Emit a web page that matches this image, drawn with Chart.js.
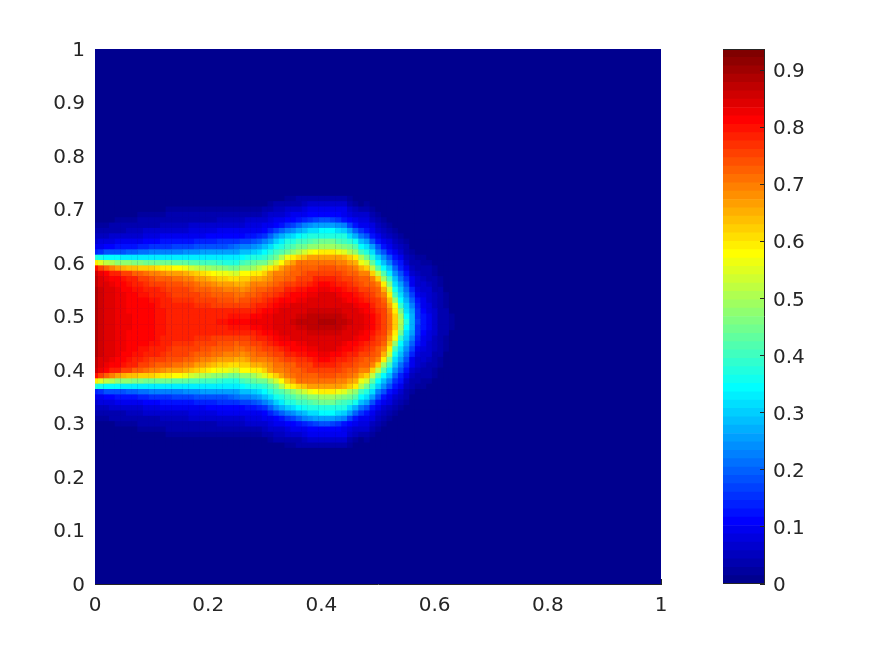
<!DOCTYPE html>
<html><head><meta charset="utf-8">
<style>html,body{margin:0;padding:0;background:#fff}canvas{position:absolute;top:0}</style>
<script src="https://cdn.jsdelivr.net/npm/chart.js@4"></script></head>
<body>
<canvas id="heat" width="700" height="656" style="left:0;width:700px;height:656px"></canvas>
<canvas id="bar" width="175" height="656" style="left:700px;width:175px;height:656px"></canvas>
<script>
const xTicks=[0,0.2,0.4,0.6,0.8,1];
const yTicks=[0,0.1,0.2,0.3,0.4,0.5,0.6,0.7,0.8,0.9,1];
const barTicks=[0,0.1,0.2,0.3,0.4,0.5,0.6,0.7,0.8,0.9];
const valueMax=0.938;
const xStep=0.01, yStep=0.01, yCentre=0.49;
// hundredths, one list per x column (x=0,0.01,...), from the centre line y=0.49 outwards; the field mirrors about that line
const columns=[
[89,89,89,89,89,88,88,87,87,86,80,59,37,14,9,7,5,3,2,1,0,0,0,0],
[86,86,86,86,86,86,86,85,85,83,76,55,36,16,10,8,5,3,2,1,0,0,0,0],
[85,85,85,85,85,85,85,84,83,81,73,52,35,18,11,8,5,4,2,1,0,0,0,0],
[84,84,84,84,84,84,84,83,82,79,70,50,34,18,11,8,6,4,3,1,1,0,0,0],
[83,83,83,83,83,83,83,82,81,78,67,48,34,19,12,9,6,4,3,2,1,0,0,0],
[83,83,83,83,83,83,82,81,80,76,65,47,33,19,12,9,6,4,3,2,1,0,0,0],
[83,83,82,82,82,82,81,80,79,75,64,47,33,20,13,9,7,5,3,2,1,0,0,0],
[82,82,82,82,82,81,80,79,78,73,64,46,33,20,13,10,7,5,3,2,1,1,0,0],
[82,82,82,82,81,80,80,78,76,72,63,46,33,21,14,10,7,5,4,3,2,1,0,0],
[81,81,81,81,81,80,79,77,75,71,62,45,33,21,14,11,8,6,4,3,2,1,0,0],
[81,81,81,81,80,79,78,76,74,70,62,45,33,22,15,11,8,6,4,3,2,1,0,0],
[80,80,80,80,80,79,78,75,73,69,61,45,33,22,15,11,8,6,4,3,2,1,0,0],
[80,80,80,79,79,78,77,75,73,68,60,44,33,22,16,12,9,6,5,3,2,1,0,0],
[79,79,79,79,78,77,76,74,72,67,59,44,33,23,16,12,9,7,5,4,3,2,1,0],
[78,78,78,78,77,76,75,74,71,67,58,43,33,23,17,13,9,7,5,4,3,2,1,0],
[78,78,78,78,77,76,75,74,71,66,58,43,33,23,17,13,10,7,5,4,3,2,1,0],
[78,78,78,78,77,76,75,73,70,65,56,43,33,24,17,13,10,7,5,4,3,2,1,0],
[78,78,78,78,77,75,74,72,69,64,54,42,33,24,17,13,10,8,6,4,3,2,1,0],
[79,78,78,77,76,75,73,71,67,62,52,42,33,24,18,14,10,8,6,4,3,2,1,0],
[79,78,78,77,76,74,72,70,66,61,50,41,33,25,18,14,10,8,6,4,3,2,1,0],
[79,78,78,77,75,74,72,69,65,60,49,41,33,25,18,14,11,8,6,4,3,2,1,0],
[79,79,78,76,75,73,71,68,64,58,48,40,33,25,19,14,11,8,6,4,3,2,1,0],
[80,79,78,76,74,73,71,67,63,57,47,39,33,25,19,15,11,9,7,5,3,2,1,0],
[80,79,78,76,74,72,70,66,62,56,46,38,33,25,19,15,11,9,7,5,3,2,1,0],
[81,80,78,75,74,72,70,66,61,55,45,37,33,26,20,15,11,9,7,5,3,2,1,0],
[81,80,78,75,73,71,69,65,61,53,44,37,33,26,21,16,11,9,7,5,3,2,1,0],
[81,80,78,76,74,71,68,65,62,58,47,41,35,28,23,17,11,9,7,5,3,2,1,0],
[82,80,78,76,74,72,69,67,63,58,48,42,36,29,23,17,12,10,8,6,4,2,1,0],
[83,81,79,77,75,73,71,70,65,59,49,43,38,30,24,18,12,10,8,6,4,2,1,0],
[83,82,80,78,76,74,72,70,65,60,52,44,38,32,26,20,14,10,8,6,4,2,1,0],
[83,83,81,79,77,75,73,70,66,62,55,45,39,34,29,23,16,11,9,7,5,3,1,0],
[83,83,82,80,78,76,74,71,68,66,59,49,42,37,32,26,20,14,10,8,6,4,2,1],
[84,84,83,82,80,77,75,73,71,70,63,53,45,40,36,30,24,17,11,9,7,5,3,1],
[85,85,84,83,81,78,76,74,71,70,66,58,50,42,38,33,27,20,13,10,7,5,3,1],
[85,85,84,83,82,80,78,75,72,71,70,64,56,45,41,37,30,22,15,11,8,6,3,2],
[86,85,85,84,82,81,79,76,73,72,71,67,59,48,42,38,32,24,17,11,9,6,3,2],
[87,86,85,84,83,82,80,77,75,73,72,71,62,51,44,40,35,27,20,12,10,7,4,3],
[87,86,85,84,83,82,80,77,75,74,72,71,64,54,45,41,36,29,22,14,10,8,5,3],
[87,87,86,85,84,83,81,78,76,75,73,71,66,57,47,42,37,31,24,16,11,9,6,3],
[87,87,86,85,84,83,82,80,78,75,73,71,66,58,48,43,37,32,25,17,11,9,6,3],
[88,87,86,85,85,84,83,81,79,76,74,71,67,59,49,44,38,34,26,18,11,9,7,4],
[88,87,86,85,85,84,83,81,79,76,74,71,67,59,49,44,38,34,26,18,11,9,7,4],
[88,87,86,85,85,84,82,80,78,76,74,71,67,59,49,44,38,34,26,17,11,9,7,4],
[87,87,86,85,84,83,81,79,77,75,73,70,66,57,47,42,37,32,24,15,11,9,6,3],
[87,86,85,84,83,82,80,78,76,74,72,70,65,55,46,41,37,30,23,13,10,9,6,3],
[86,85,85,84,82,81,79,77,75,73,71,67,62,51,44,39,32,25,17,11,8,7,4,2],
[85,85,84,83,82,80,78,76,74,72,70,65,59,47,42,36,27,20,12,9,7,5,2,1],
[84,84,83,82,80,78,76,74,72,70,65,57,50,41,35,29,21,15,10,8,6,4,1,0],
[83,83,82,81,79,77,75,73,72,70,63,54,45,37,32,26,19,13,10,8,6,4,2,0],
[81,81,80,79,77,75,74,72,70,62,52,43,37,31,25,19,13,10,8,5,3,2,1,0],
[79,78,77,76,75,73,72,70,62,52,42,35,30,23,18,13,10,7,5,3,2,1,0,0],
[76,76,75,74,73,70,65,59,49,42,35,29,24,18,13,10,7,5,3,2,1,0,0,0],
[71,71,70,67,64,60,53,46,40,33,28,23,18,12,10,8,5,3,2,1,0,0,0,0],
[62,62,60,56,47,41,36,32,28,24,20,16,12,9,7,5,3,2,1,0,0,0,0,0],
[50,49,45,39,35,31,28,25,21,18,14,12,9,7,5,4,2,1,1,0,0,0,0,0],
[38,35,32,30,27,24,21,18,15,12,9,7,5,4,3,2,1,0,0,0,0,0,0,0],
[27,27,25,23,20,17,14,10,9,7,5,4,3,2,1,1,0,0,0,0,0,0,0,0],
[17,16,15,14,12,10,8,7,6,5,4,3,2,1,1,0,0,0,0,0,0,0,0,0],
[12,12,11,10,9,8,7,6,5,4,3,2,2,1,1,0,0,0,0,0,0,0,0,0],
[9,9,8,8,7,6,6,5,4,3,3,2,1,1,0,0,0,0,0,0,0,0,0,0],
[6,6,6,5,5,5,4,4,3,2,2,1,1,0,0,0,0,0,0,0,0,0,0,0],
[4,4,4,4,3,3,3,2,2,1,1,1,0,0,0,0,0,0,0,0,0,0,0,0],
[3,3,3,2,2,2,1,1,1,0,0,0,0,0,0,0,0,0,0,0,0,0,0,0],
[2,2,1,1,1,0,0,0,0,0,0,0,0,0,0,0,0,0,0,0,0,0,0,0]
];
const BANDS=64;
function jet(i){
  const t=(i+1)/BANDS, c=a=>Math.round(255*Math.max(0,Math.min(1,1.5-Math.abs(4*t-a))));
  return `rgb(${c(3)},${c(2)},${c(1)})`;
}
function colourOf(v){return jet(Math.min(BANDS-1,Math.floor(v/valueMax*BANDS)));}
const ink='#262626';
const font={family:'"DejaVu Sans"',size:20};
const cells=[];
columns.forEach((col,ci)=>col.forEach((h,k)=>{
  const v=h/100, x=ci*xStep;
  cells.push({x,y:yCentre+k*yStep,v});
  if(k>0)cells.push({x,y:yCentre-k*yStep,v});
}));
cells.sort((a,b)=>a.v-b.v);
const backdrop={id:'backdrop',beforeDatasetsDraw(c){
  const a=c.chartArea,g=c.ctx;g.save();g.fillStyle=jet(0);g.fillRect(a.left,a.top,a.width,a.height);g.restore();}};
new Chart(document.getElementById('heat'),{
  type:'scatter',
  plugins:[backdrop],
  data:{datasets:[{data:cells,pointStyle:'rect',pointRadius:4.2,pointHoverRadius:4.2,borderWidth:0,pointBorderWidth:0,
    backgroundColor:cells.map(p=>colourOf(p.v))}]},
  options:{responsive:false,animation:false,events:[],
    layout:{padding:{top:49,right:39,bottom:0,left:0}},
    plugins:{legend:{display:false},tooltip:{enabled:false}},
    scales:{
      x:{type:'linear',min:0,max:1,
        afterBuildTicks:s=>{s.ticks=xTicks.map(value=>({value}));},
        afterFit:s=>{s.height=72;},
        border:{display:true,color:ink,width:1,z:2},
        grid:{drawOnChartArea:false,drawTicks:true,tickLength:-5,tickColor:ink,z:-1},
        ticks:{color:ink,font,padding:15,maxRotation:0,autoSkip:false,callback:v=>String(v)}},
      y:{type:'linear',min:0,max:1,
        afterBuildTicks:s=>{s.ticks=yTicks.map(value=>({value}));},
        afterFit:s=>{s.width=95;},
        border:{display:false},
        grid:{drawOnChartArea:false,drawTicks:true,tickLength:-5,tickColor:ink,z:-1},
        ticks:{color:ink,font,padding:15,labelOffset:1.5,autoSkip:false,callback:v=>String(v)}}
    }}
});
const frame={id:'frame',afterDatasetsDraw(c){
  const a=c.chartArea,g=c.ctx;g.save();g.strokeStyle=ink;g.lineWidth=1;g.beginPath();
  g.moveTo(a.left,a.top+0.5);g.lineTo(a.right-0.5,a.top+0.5);g.lineTo(a.right-0.5,a.bottom-0.5);g.lineTo(a.left,a.bottom-0.5);
  g.stroke();g.restore();}};
const bandEdges=Array.from({length:BANDS},(_,i)=>i);
new Chart(document.getElementById('bar'),{
  type:'bar',
  plugins:[frame],
  data:{labels:['c'],datasets:bandEdges.map(i=>({
    data:[[i/BANDS*valueMax,(i+1)/BANDS*valueMax]],backgroundColor:jet(i),borderColor:jet(i),borderWidth:0,
    barPercentage:1,categoryPercentage:1,grouped:false}))},
  options:{responsive:false,animation:false,events:[],
    layout:{padding:{top:49,right:0,bottom:72,left:23}},
    plugins:{legend:{display:false},tooltip:{enabled:false}},
    scales:{
      x:{display:false},
      y:{type:'linear',position:'right',min:0,max:valueMax,
        afterBuildTicks:s=>{s.ticks=barTicks.map(value=>({value}));},
        afterFit:s=>{s.width=110;},
        border:{display:false},
        grid:{drawOnChartArea:false,drawTicks:true,tickLength:-5,tickColor:ink,z:1},
        ticks:{color:ink,font,padding:13,labelOffset:1.5,autoSkip:false,callback:v=>String(v)}}
    }}
});
</script></body></html>
